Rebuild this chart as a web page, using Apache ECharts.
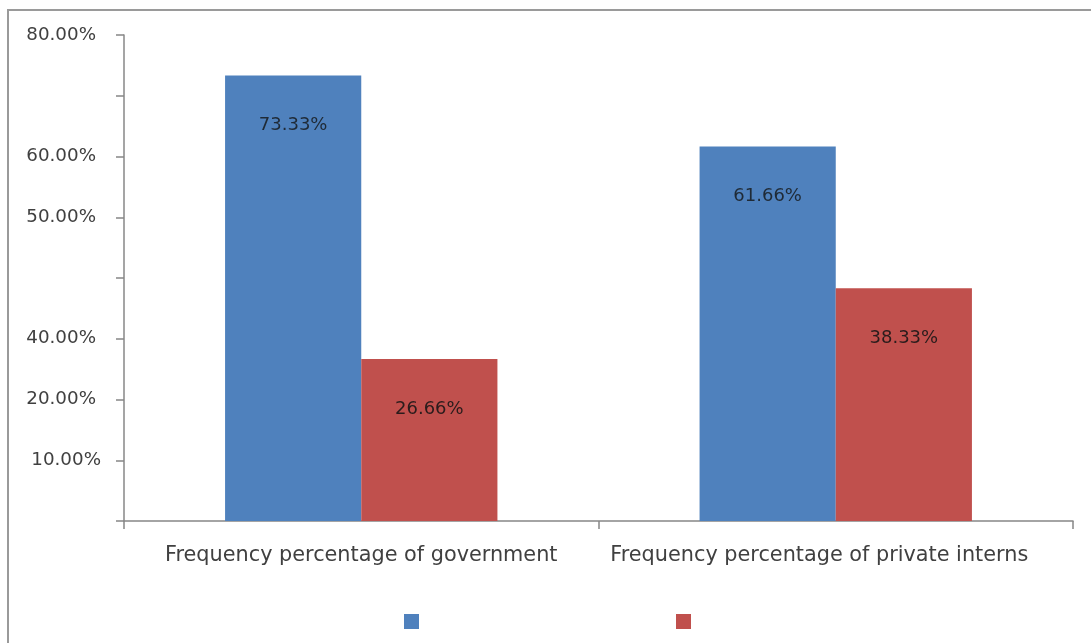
<!DOCTYPE html>
<html>
<head>
<meta charset="utf-8">
<script src="https://cdn.jsdelivr.net/npm/echarts@6/dist/echarts.min.js"></script>
<style>
html,body{margin:0;padding:0;background:#fff;}
#chart{width:1091px;height:643px;}
</style>
</head>
<body>
<div id="chart"></div>
<script>
// ---- data ----
var categories = ['Frequency percentage of government', 'Frequency percentage of private interns'];
var seriesNames = ['Series 1', 'Series 2'];
var series1Values = [73.33, 61.66];
var series2Values = [26.66, 38.33];
var dataLabels1 = ['73.33%', '61.66%'];
var dataLabels2 = ['26.66%', '38.33%'];
// tick labels as printed on the original axis, one per 10-unit tick (0..80)
var yTickLabels = ['', '10.00%', '20.00%', '40.00%', '', '50.00%', '60.00%', '', '80.00%'];

var FONT = '"DejaVu Sans"';
var chart = echarts.init(document.getElementById('chart'), null, {renderer: 'canvas'});
var option = {
  animation: false,
  backgroundColor: '#ffffff',
  textStyle: {fontFamily: FONT},
  graphic: [{
    type: 'rect',
    shape: {x: 8, y: 10, width: 1200, height: 1000},
    style: {fill: 'none', stroke: '#9a9a9a', lineWidth: 2},
    silent: true,
    z: -1
  }],
  grid: {left: 124, right: 18, top: 35, bottom: 122, containLabel: false},
  legend: [{
    data: [seriesNames[0]],
    left: 404, top: 614, padding: 0,
    itemWidth: 15, itemHeight: 15, icon: 'rect',
    formatter: function () { return ''; },
    selectedMode: false
  }, {
    data: [seriesNames[1]],
    left: 676, top: 614, padding: 0,
    itemWidth: 15, itemHeight: 15, icon: 'rect',
    formatter: function () { return ''; },
    selectedMode: false
  }],
  xAxis: {
    type: 'category',
    data: categories,
    axisLine: {lineStyle: {color: '#878787', width: 1.5}},
    axisTick: {show: true, length: 8, alignWithLabel: false, lineStyle: {color: '#878787', width: 1.5}},
    axisLabel: {
      color: '#404040', fontSize: 20.8, fontFamily: FONT, margin: 24, interval: 0,
      formatter: function (v, i) { return i === 1 ? '{b|' + v + '}' : '{a|' + v + '}'; },
      rich: {
        a: {fontSize: 20.8, fontFamily: FONT, color: '#404040'},
        b: {fontSize: 20.8, fontFamily: FONT, color: '#404040', padding: [0, 33, 0, 0]}
      }
    },
    splitLine: {show: false}
  },
  yAxis: {
    type: 'value',
    min: 0, max: 80, interval: 10,
    axisLine: {show: true, lineStyle: {color: '#878787', width: 1.5}},
    axisTick: {show: true, length: 8, lineStyle: {color: '#878787', width: 1.5}},
    splitLine: {show: false},
    axisLabel: {
      color: '#404040', fontSize: 18.3, fontFamily: FONT, margin: 23,
      formatter: function (v) {
        var idx = Math.round(v / 10);
        var t = yTickLabels[idx] || '';
        if (!t) return '';
        return idx === 1 ? '{n|' + t + '}' : '{p|' + t + '}';
      },
      rich: {
        n: {fontSize: 18.3, fontFamily: FONT, color: '#404040'},
        p: {fontSize: 18.3, fontFamily: FONT, color: '#404040', padding: [0, 5, 0, 0]}
      }
    }
  },
  series: [{
    name: seriesNames[0],
    type: 'bar',
    data: series1Values,
    barGap: '0%',
    barCategoryGap: '42.6%',
    itemStyle: {color: '#4F81BD'},
    label: {
      show: true, position: 'insideTop', distance: 41,
      color: '#1f2a36', fontSize: 18, fontFamily: FONT,
      formatter: function (p) { return dataLabels1[p.dataIndex]; }
    }
  }, {
    name: seriesNames[1],
    type: 'bar',
    data: series2Values,
    barGap: '0%',
    barCategoryGap: '42.6%',
    itemStyle: {color: '#C0504D'},
    label: {
      show: true, position: 'insideTop', distance: 41,
      color: '#2a1c1c', fontSize: 18, fontFamily: FONT,
      formatter: function (p) { return dataLabels2[p.dataIndex]; }
    }
  }]
};
chart.setOption(option);
</script>
</body>
</html>
